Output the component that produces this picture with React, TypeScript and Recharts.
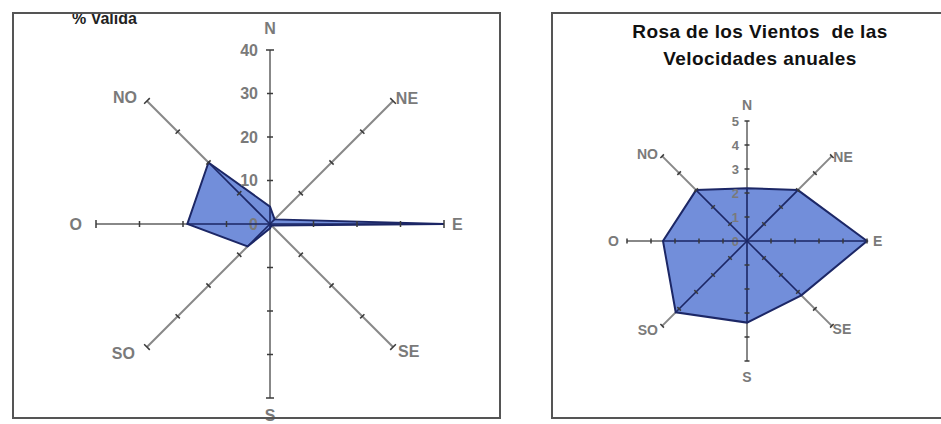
import React from "react";
import {
  RadarChart,
  Radar,
  PolarGrid,
  PolarAngleAxis,
  PolarRadiusAxis,
} from "recharts";

// wind directions, clockwise from north
const directions = ["N", "NE", "E", "SE", "S", "SO", "O", "NO"];
// % of valid observations per direction (left rose)
const validPct = [4, 1.5, 40, 0.5, 1, 7.3, 19, 20];
// mean annual speed per direction (right rose)
const annualSpeed = [2.2, 3.0, 5.0, 3.2, 3.4, 4.2, 3.5, 3.0];

// scale marks drawn on every spoke
const pctTicks = [10, 20, 30, 40];
const speedTicks = [1, 2, 3, 4, 5];

const pctDomain = [0, 40];
const speedDomain = [0, 5];

// recharts angle of each spoke, same order as directions
const spokeAngles = [90, 45, 0, -45, -90, -135, 180, 135];

const buildRows = (values: number[], ticks: number[]) =>
  directions.map((dir, i) => {
    const row: any = { dir, value: values[i] };
    ticks.forEach((t, k) => {
      row[`t${k}`] = t;
    });
    return row;
  });

const pctData = buildRows(validPct, pctTicks);
const speedData = buildRows(annualSpeed, speedTicks);

const FILL = "#6a88d8";
const EDGE = "#1c2766";
const AXIS = "#888";
const LABEL = "#7a7a7a";
const FONT = "Liberation Sans, Arial, sans-serif";

// small dash across a spoke
const dashDot = (half: number) => (props: any) => {
  const { cx, cy, index } = props;
  const angle = spokeAngles[index % spokeAngles.length];
  const rad = (angle * Math.PI) / 180;
  const px = Math.sin(rad) * half;
  const py = Math.cos(rad) * half;
  return (
    <line
      key={`dd-${index}`}
      x1={cx - px}
      y1={cy - py}
      x2={cx + px}
      y2={cy + py}
      stroke="#3a3a3a"
      strokeWidth={1.5}
    />
  );
};

// spoke seen through the filled area: dark line from the centre to the vertex
const innerSpoke = (ox: number, oy: number) => (props: any) => {
  const { cx, cy, index } = props;
  return (
    <line
      key={`is-${index}`}
      x1={ox}
      y1={oy}
      x2={cx}
      y2={cy}
      stroke={EDGE}
      strokeWidth={1.6}
    />
  );
};

// value labels on the north spoke
const northTick = (fontSize: number, textDx: number) => (props: any) => {
  const { x, y, payload, index } = props;
  return (
    <text
      key={`nt-${index}`}
      x={x + textDx}
      y={y}
      textAnchor="end"
      dominantBaseline="central"
      fontSize={fontSize}
      fontWeight="bold"
      fill={LABEL}
      fontFamily={FONT}
    >
      {payload.value}
    </text>
  );
};

// direction label placed outside the end of each spoke
const dirTick =
  (cx: number, cy: number, radius: number, gaps: Record<string, number[]>, fontSize: number) =>
  (props: any) => {
    const { x, y, payload, index } = props;
    const dx = x - cx;
    const dy = y - cy;
    const len = Math.sqrt(dx * dx + dy * dy) || 1;
    const ux = dx / len;
    const uy = dy / len;
    const [gap, shiftY] = gaps[payload.value] ?? [8, 0];
    const r = radius + gap;
    const anchor = Math.abs(ux) < 0.1 ? "middle" : ux > 0 ? "start" : "end";
    return (
      <text
        key={`d-${index}`}
        x={cx + ux * r}
        y={cy + uy * r + shiftY}
        textAnchor={anchor}
        dominantBaseline="central"
        fontSize={fontSize}
        fontWeight="bold"
        fill={LABEL}
        fontFamily={FONT}
      >
        {payload.value}
      </text>
    );
  };

function Rose({
  data,
  ticks,
  width,
  height,
  cx,
  cy,
  radius,
  domain,
  gaps,
  labelSize,
  tickSize,
  tickHalf,
  textDx,
}: any) {
  return (
    <RadarChart
      width={width}
      height={height}
      data={data}
      cx={cx}
      cy={cy}
      outerRadius={radius}
      margin={{ top: 0, right: 0, bottom: 0, left: 0 }}
    >
      <PolarAngleAxis
        dataKey="dir"
        axisLine={false}
        tickLine={false}
        tick={dirTick(cx, cy, radius, gaps, labelSize)}
      />
      <PolarRadiusAxis
        angle={90}
        type="number"
        domain={domain}
        tickCount={domain[1] > 10 ? 5 : domain[1] + 1}
        axisLine={false}
        tick={northTick(tickSize, textDx)}
      />
      <PolarGrid polarRadius={[]} stroke={AXIS} strokeWidth={2} strokeOpacity={1} />
      <Radar
        dataKey="value"
        fill={FILL}
        fillOpacity={0.95}
        stroke={EDGE}
        strokeWidth={2}
        dot={innerSpoke(cx, cy)}
        isAnimationActive={false}
      />
      {ticks.map((t: number, k: number) => (
        <Radar
          key={t}
          dataKey={`t${k}`}
          fill="none"
          stroke="none"
          dot={dashDot(k === ticks.length - 1 && radius > 150 ? 4 : tickHalf)}
          isAnimationActive={false}
        />
      ))}
    </RadarChart>
  );
}

export default function App() {
  return (
    <div
      style={{
        position: "fixed",
        left: 0,
        top: 0,
        width: 941,
        height: 424,
        background: "#fff",
        overflow: "hidden",
        fontFamily: FONT,
      }}
    >
      <div style={{ position: "absolute", left: 0, top: 0 }}>
        <Rose
          data={pctData}
          ticks={pctTicks}
          width={520}
          height={424}
          cx={270}
          cy={224}
          radius={174}
          domain={pctDomain}
          gaps={{
            N: [22, 0],
            NE: [4, 0],
            E: [8, 0],
            SE: [7, 0],
            S: [17, 0],
            SO: [17, -6],
            O: [14, 0],
            NO: [14, 6],
          }}
          labelSize={16}
          tickSize={16}
          tickHalf={3}
          textDx={-12}
        />
      </div>
      <div
        style={{
          position: "absolute",
          left: 72,
          top: 10,
          fontSize: 16,
          fontWeight: "bold",
          color: "#222",
        }}
      >
        % Valida
      </div>
      <div
        style={{
          position: "absolute",
          left: 12,
          top: 12,
          width: 485,
          height: 403,
          border: "2px solid #555",
          pointerEvents: "none",
        }}
      />

      <div style={{ position: "absolute", left: 540, top: 0 }}>
        <Rose
          data={speedData}
          ticks={speedTicks}
          width={401}
          height={424}
          cx={207}
          cy={241}
          radius={120}
          domain={speedDomain}
          gaps={{
            N: [16, 0],
            NE: [2, 2],
            E: [6, 0],
            SE: [1, 2],
            S: [16, 0],
            SO: [6, 0],
            O: [8, 0],
            NO: [6, 2],
          }}
          labelSize={14}
          tickSize={13}
          tickHalf={2.5}
          textDx={-8}
        />
      </div>
      <div
        style={{
          position: "absolute",
          left: 560,
          width: 400,
          top: 18,
          textAlign: "center",
          fontSize: 19,
          fontWeight: "bold",
          lineHeight: "27px",
          color: "#111",
          letterSpacing: 0.4,
        }}
      >
        Rosa de los Vientos&nbsp; de las
        <br />
        Velocidades anuales
      </div>
      <div
        style={{
          position: "absolute",
          left: 551,
          top: 12,
          width: 420,
          height: 403,
          border: "2px solid #555",
          pointerEvents: "none",
        }}
      />
    </div>
  );
}
